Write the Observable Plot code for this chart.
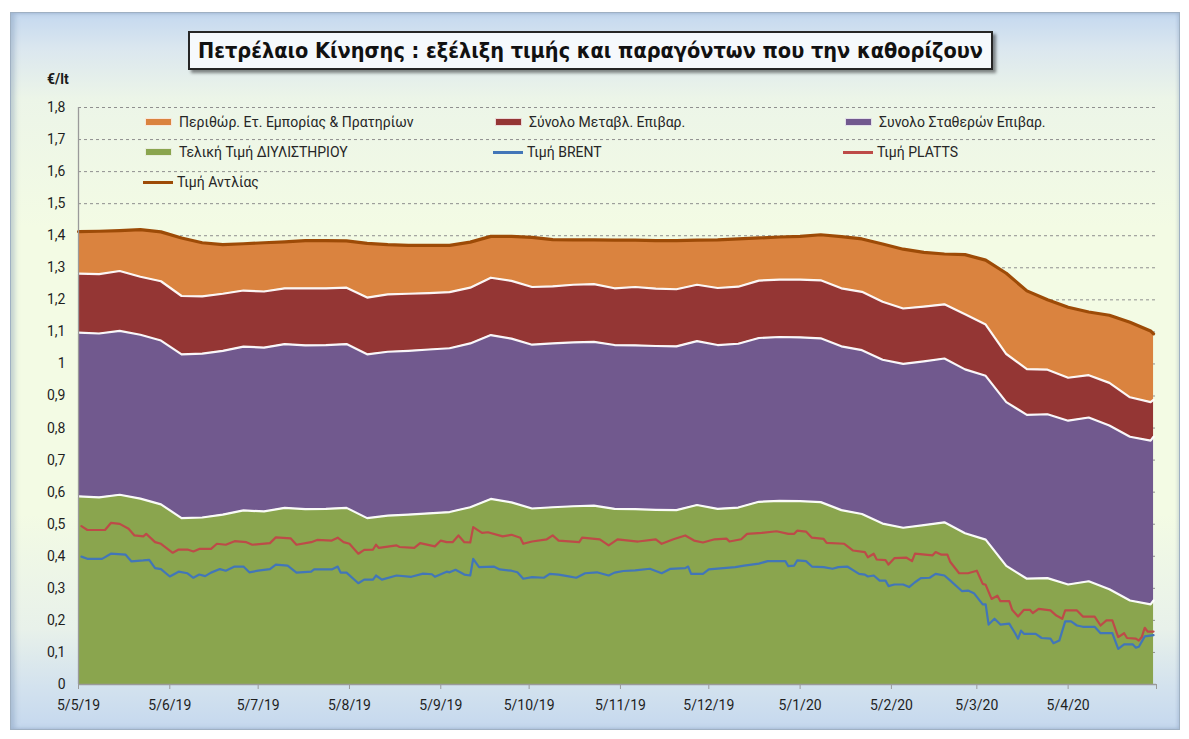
<!DOCTYPE html>
<html>
<head>
<meta charset="utf-8">
<script src="https://cdn.jsdelivr.net/npm/d3@7"></script>
<script src="https://cdn.jsdelivr.net/npm/@observablehq/plot@0.6"></script>
<style>
  html, body { margin: 0; padding: 0; background: #ffffff; }
  body { width: 1189px; height: 739px; position: relative; overflow: hidden; font-family: Roboto, "Noto Sans", sans-serif; }
  #frame {
    position: absolute; left: 10px; top: 12px; width: 1170px; height: 718px; box-sizing: border-box;
    border: 1px solid #9fb0c2;
    background: linear-gradient(180deg, #c4d8ef 0%, #dbe7ef 5%, #ecf5e8 12%, #f3fbe4 30%, #f3fbe4 70%, #e8f1ea 86%, #d3e2ee 94%, #c5d8ee 100%);
    box-shadow: inset 4px 0 5px rgba(110,135,170,0.35), inset -2px 0 3px rgba(110,135,170,0.2);
  }
  #chart { position: absolute; left: 10px; top: 12px; }
  #title {
    position: absolute; left: 188px; top: 31px; width: 805px; height: 39px; box-sizing: border-box;
    border: 2px solid #262626; background: rgba(248,251,253,0.9);
    box-shadow: 3px 3px 3px rgba(0,0,0,0.45);
    text-align: center; line-height: 35px; white-space: nowrap;
    font-family: "DejaVu Sans Condensed", "DejaVu Sans", sans-serif; font-stretch: condensed;
    font-weight: bold; font-size: 21.5px; color: #111;
  }
  #unit { position: absolute; left: 47px; top: 71px; font-weight: bold; font-size: 14px; color: #1a1a1a; }
  .lg { position: absolute; height: 18px; line-height: 18px; font-size: 14px; color: #262626; white-space: nowrap; }
  .sw { position: absolute; left: 0; top: 5px; width: 27px; height: 8px; box-sizing: border-box; border: 1px solid rgba(255,255,255,0.8); }
  .ln { position: absolute; left: 0; top: 8px; width: 30px; height: 3px; }
  .lg span.t { position: absolute; left: 34px; top: 0; }
</style>
</head>
<body>
<div id="frame"></div>
<div id="chart"></div>
<div id="title">Πετρέλαιο Κίνησης : εξέλιξη τιμής και παραγόντων που την καθορίζουν</div>
<div id="unit">€/lt</div>
<div id="legend"></div>
<script>
// ---------------- DATA ----------------
const seriesNames = [
  "Τελική Τιμή ΔΙΥΛΙΣΤΗΡΙΟΥ",
  "Συνολο Σταθερών Επιβαρ.",
  "Σύνολο Μεταβλ. Επιβαρ.",
  "Περιθώρ. Ετ. Εμπορίας & Πρατηρίων"
];
const seriesColors = ["#8aa54e", "#71598e", "#943634", "#da833f"];
const lineNames = ["Τιμή BRENT", "Τιμή PLATTS", "Τιμή Αντλίας"];
const lineColors = ["#4276b8", "#bd4b48", "#9d4b07"];

// weekly observations (stacked components, €/lt)
const areaDates = [
  "2019-05-05","2019-05-12","2019-05-19","2019-05-26","2019-06-02","2019-06-09","2019-06-16","2019-06-23","2019-06-30","2019-07-07",
  "2019-07-14","2019-07-21","2019-07-28","2019-08-04","2019-08-11","2019-08-18","2019-08-25","2019-09-01","2019-09-08","2019-09-15",
  "2019-09-22","2019-09-29","2019-10-06","2019-10-13","2019-10-20","2019-10-27","2019-11-03","2019-11-10","2019-11-17","2019-11-24",
  "2019-12-01","2019-12-08","2019-12-15","2019-12-22","2019-12-29","2020-01-05","2020-01-12","2020-01-19","2020-01-26","2020-02-02",
  "2020-02-09","2020-02-16","2020-02-23","2020-03-01","2020-03-08","2020-03-15","2020-03-22","2020-03-29","2020-04-05","2020-04-12",
  "2020-04-19","2020-04-26","2020-05-03","2020-05-04"
];
const refinery = [
  0.587,0.584,0.592,0.580,0.562,0.519,0.521,0.530,0.543,0.540,
  0.551,0.547,0.548,0.551,0.519,0.527,0.530,0.534,0.538,0.553,
  0.579,0.568,0.549,0.553,0.556,0.558,0.548,0.547,0.545,0.544,
  0.560,0.548,0.552,0.570,0.573,0.572,0.569,0.544,0.532,0.502,
  0.489,0.497,0.506,0.472,0.452,0.370,0.330,0.332,0.312,0.322,
  0.297,0.262,0.250,0.262
];
const fixedTaxes = [
  0.511,0.511,0.511,0.511,0.511,0.511,0.511,0.511,0.511,0.511,
  0.511,0.511,0.511,0.511,0.511,0.511,0.511,0.511,0.511,0.511,
  0.511,0.511,0.511,0.511,0.511,0.511,0.511,0.511,0.511,0.511,
  0.511,0.511,0.511,0.511,0.511,0.511,0.511,0.511,0.511,0.511,
  0.511,0.511,0.511,0.511,0.511,0.511,0.511,0.511,0.511,0.511,
  0.511,0.511,0.511,0.511
];
const variableTaxes = [
  0.184,0.185,0.187,0.181,0.185,0.182,0.179,0.178,0.175,0.175,
  0.174,0.178,0.177,0.176,0.177,0.179,0.178,0.176,0.175,0.174,
  0.179,0.180,0.180,0.178,0.180,0.180,0.177,0.182,0.179,0.178,
  0.176,0.178,0.178,0.179,0.179,0.180,0.181,0.181,0.182,0.181,
  0.173,0.171,0.169,0.172,0.160,0.150,0.143,0.139,0.134,0.132,
  0.133,0.123,0.120,0.115
];
const margins = [
  0.131,0.134,0.126,0.147,0.154,0.181,0.167,0.153,0.146,0.152,
  0.145,0.149,0.149,0.146,0.169,0.155,0.151,0.149,0.146,0.142,
  0.129,0.139,0.155,0.146,0.140,0.138,0.150,0.146,0.150,0.152,
  0.139,0.150,0.149,0.133,0.133,0.135,0.142,0.161,0.165,0.180,
  0.185,0.169,0.157,0.186,0.201,0.252,0.244,0.218,0.220,0.197,
  0.211,0.234,0.222,0.206
];
const pumpPrice = [
  1.413,1.414,1.416,1.419,1.412,1.393,1.378,1.372,1.375,1.378,
  1.381,1.385,1.385,1.384,1.376,1.372,1.370,1.370,1.370,1.380,
  1.398,1.398,1.395,1.388,1.387,1.387,1.386,1.386,1.385,1.385,
  1.386,1.387,1.390,1.393,1.396,1.398,1.403,1.397,1.390,1.374,
  1.358,1.348,1.343,1.341,1.324,1.283,1.228,1.200,1.177,1.162,
  1.152,1.130,1.103,1.094
];

// crude quotes: day number counted from 5/5/2019, value in €/lt
const brentDays = [
  1,3,8,11,16,18,22,24,26,28,31,34,37,39,41,43,45,48,50,53,56,58,61,65,67,71,74,79,80,86,
  88,89,91,95,97,100,101,103,108,113,117,120,121,125,126,128,131,133,134,136,141,143,147,149,151,154,158,160,163,166,
  169,172,176,180,182,185,189,194,198,201,206,207,208,212,214,220,223,226,231,234,240,241,243,244,247,249,253,256,258,261,
  265,267,268,270,272,274,275,277,280,282,284,286,289,291,294,296,300,302,304,307,308,309,311,313,316,318,319,320,321,325,
  327,330,331,333,335,337,339,341,345,347,351,353,355,358,359,360,362,365
];
const brent = [
  0.399,0.392,0.392,0.408,0.405,0.384,0.387,0.389,0.363,0.360,0.337,0.352,0.347,0.333,0.343,0.338,0.349,0.360,0.355,0.368,0.368,0.350,0.355,0.360,0.374,0.371,0.349,0.352,0.359,0.359,
  0.368,0.349,0.349,0.316,0.327,0.327,0.340,0.327,0.340,0.336,0.346,0.344,0.336,0.352,0.350,0.358,0.343,0.340,0.392,0.366,0.368,0.359,0.355,0.350,0.330,0.335,0.333,0.345,0.343,0.338,
  0.333,0.347,0.350,0.340,0.349,0.354,0.356,0.361,0.347,0.361,0.363,0.368,0.345,0.345,0.359,0.364,0.366,0.371,0.377,0.385,0.385,0.369,0.371,0.387,0.385,0.368,0.366,0.361,0.366,0.368,
  0.345,0.343,0.337,0.340,0.324,0.324,0.307,0.312,0.312,0.304,0.319,0.332,0.333,0.345,0.340,0.324,0.291,0.293,0.285,0.250,0.250,0.187,0.205,0.187,0.190,0.160,0.143,0.168,0.158,0.158,
  0.145,0.143,0.129,0.137,0.197,0.197,0.184,0.180,0.180,0.160,0.160,0.111,0.125,0.125,0.115,0.118,0.150,0.154
];
const plattsDays = [
  1,3,9,11,14,17,19,22,23,26,28,32,34,37,39,41,45,47,50,53,57,59,65,67,72,74,79,81,86,88,
  90,92,95,97,100,101,102,108,109,114,116,121,123,125,127,129,131,133,134,137,139,144,147,150,151,154,159,161,163,170,
  171,177,180,183,190,196,198,202,206,209,212,216,220,221,225,227,232,237,241,243,244,247,249,253,254,260,263,267,268,270,
  271,274,275,277,281,283,284,290,291,293,295,296,299,302,305,307,308,310,312,313,316,317,319,321,323,324,326,330,332,334,
  335,339,341,345,347,349,351,353,355,356,359,360,361,362,363,365
];
const platts = [
  0.494,0.482,0.482,0.504,0.501,0.486,0.465,0.462,0.470,0.444,0.439,0.411,0.421,0.421,0.415,0.423,0.423,0.439,0.436,0.447,0.444,0.436,0.441,0.459,0.456,0.436,0.444,0.451,0.449,0.458,
  0.444,0.439,0.408,0.420,0.421,0.436,0.426,0.434,0.429,0.426,0.441,0.431,0.449,0.444,0.444,0.465,0.444,0.443,0.491,0.473,0.475,0.462,0.467,0.458,0.439,0.446,0.453,0.465,0.449,0.444,
  0.458,0.453,0.434,0.453,0.446,0.453,0.439,0.453,0.465,0.449,0.443,0.453,0.455,0.446,0.453,0.470,0.473,0.478,0.470,0.470,0.480,0.477,0.458,0.454,0.442,0.439,0.418,0.413,0.397,0.408,
  0.390,0.388,0.374,0.394,0.396,0.385,0.408,0.403,0.413,0.405,0.405,0.382,0.347,0.347,0.355,0.314,0.311,0.267,0.277,0.260,0.260,0.233,0.212,0.233,0.233,0.223,0.236,0.231,0.215,0.205,
  0.231,0.231,0.212,0.212,0.184,0.200,0.200,0.148,0.160,0.145,0.143,0.137,0.148,0.177,0.165,0.165
];

// axes
const xTickDates = ["2019-05-05","2019-06-05","2019-07-05","2019-08-05","2019-09-05","2019-10-05","2019-11-05","2019-12-05","2020-01-05","2020-02-05","2020-03-05","2020-04-05","2020-05-05"];
const xTickLabels = ["5/5/19","5/6/19","5/7/19","5/8/19","5/9/19","5/10/19","5/11/19","5/12/19","5/1/20","5/2/20","5/3/20","5/4/20",""];
const yTicks = [0,0.1,0.2,0.3,0.4,0.5,0.6,0.7,0.8,0.9,1,1.1,1.2,1.3,1.4,1.5,1.6,1.7,1.8];
const yTickLabels = ["0","0,1","0,2","0,3","0,4","0,5","0,6","0,7","0,8","0,9","1","1,1","1,2","1,3","1,4","1,5","1,6","1,7","1,8"];

// ---------------- BUILD ----------------
const parse = d3.utcParse("%Y-%m-%d");
const start = parse("2019-05-05");
const end = parse("2020-05-05");
const dayDate = d => d3.utcDay.offset(start, d);

const components = [refinery, fixedTaxes, variableTaxes, margins];
const areaRows = [];
areaDates.forEach((ds, i) => {
  const date = parse(ds);
  components.forEach((arr, k) => areaRows.push({date, series: seriesNames[k], value: arr[i]}));
});
const pumpRows = areaDates.map((ds, i) => ({date: parse(ds), value: pumpPrice[i]}));
const brentRows = brentDays.map((d, i) => ({date: dayDate(d), value: brent[i]}));
const plattsRows = plattsDays.map((d, i) => ({date: dayDate(d), value: platts[i]}));

const xLabel = new Map(xTickDates.map((d, i) => [+parse(d), xTickLabels[i]]));
const yLabel = new Map(yTicks.map((d, i) => [Math.round(d * 10), yTickLabels[i]]));

const chart = Plot.plot({
  width: 1170,
  height: 718,
  marginLeft: 68,
  marginRight: 24,
  marginTop: 95,
  marginBottom: 46,
  style: {background: "transparent", fontFamily: "Roboto, 'Noto Sans', sans-serif", fontSize: "14px", color: "#1f1f1f", overflow: "visible"},
  x: {type: "utc", domain: [start, end], ticks: xTickDates.map(parse), tickFormat: d => xLabel.get(+d) ?? "", tickSize: 5, tickPadding: 11, label: null},
  y: {domain: [0, 1.8], ticks: yTicks, tickFormat: d => yLabel.get(Math.round(d * 10)), tickSize: 0, tickPadding: 13, label: null},
  color: {domain: seriesNames, range: seriesColors},
  marks: [
    Plot.ruleY(yTicks.filter(d => d > 0), {stroke: "#8f8f8f", strokeDasharray: "3,3", strokeWidth: 1}),
    Plot.areaY(areaRows, {x: "date", y: "value", fill: "series", order: seriesNames}),
    Plot.lineY(areaRows.filter(d => d.series !== seriesNames[3]),
      Plot.stackY2({x: "date", y: "value", z: "series", order: seriesNames, stroke: "#ffffff", strokeWidth: 2.2, strokeOpacity: 0.95})),
    Plot.lineY(brentRows, {x: "date", y: "value", stroke: lineColors[0], strokeWidth: 2.2}),
    Plot.lineY(plattsRows, {x: "date", y: "value", stroke: lineColors[1], strokeWidth: 2.2}),
    Plot.lineY(pumpRows, {x: "date", y: "value", stroke: lineColors[2], strokeWidth: 3.2}),
    Plot.ruleX([start], {stroke: "#9a9a9a", strokeWidth: 1.3}),
    Plot.ruleY([0], {stroke: "#9a9a9a", strokeWidth: 1.3})
  ]
});
d3.select(chart).selectAll("[aria-label='x-axis tick'] path, [aria-label='x-axis tick']").attr("stroke", "#9a9a9a");
document.getElementById("chart").appendChild(chart);

// legend (inside plot area)
const legendItems = [
  {label: seriesNames[3], color: seriesColors[3], kind: "sw", x: 145, y: 113},
  {label: seriesNames[2], color: seriesColors[2], kind: "sw", x: 495, y: 113},
  {label: seriesNames[1], color: seriesColors[1], kind: "sw", x: 845, y: 113},
  {label: seriesNames[0], color: seriesColors[0], kind: "sw", x: 145, y: 143},
  {label: lineNames[0], color: lineColors[0], kind: "ln", x: 493, y: 143},
  {label: lineNames[1], color: lineColors[1], kind: "ln", x: 843, y: 143},
  {label: lineNames[2], color: lineColors[2], kind: "ln", x: 143, y: 173}
];
const lg = document.getElementById("legend");
legendItems.forEach(it => {
  const div = document.createElement("div");
  div.className = "lg";
  div.style.left = it.x + "px";
  div.style.top = it.y + "px";
  const s = document.createElement("span");
  s.className = it.kind;
  s.style.background = it.color;
  const t = document.createElement("span");
  t.className = "t";
  t.textContent = it.label;
  div.appendChild(s);
  div.appendChild(t);
  lg.appendChild(div);
});
</script>
</body>
</html>
